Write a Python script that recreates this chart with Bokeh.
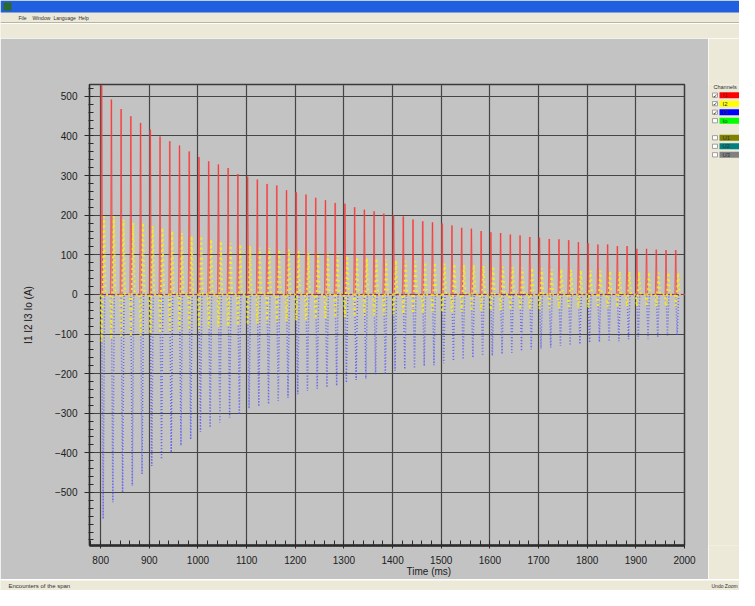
import numpy as np
from bokeh.plotting import figure
from bokeh.models import Range1d, FixedTicker, Title
from bokeh.layouts import column, row
from bokeh.embed import file_html
from bokeh.resources import INLINE
from bokeh.core.properties import value

FONT = "Liberation Sans"
GRAY = "#c3c3c3"
BEIGE = "#ece9d8"

# ---------------- data ----------------
cycle_start_ms = [800, 820, 840, 860, 880, 900, 920, 940, 960, 980,
                  1000, 1020, 1040, 1060, 1080, 1100, 1120, 1140, 1160, 1180,
                  1200, 1220, 1240, 1260, 1280, 1300, 1320, 1340, 1360, 1380,
                  1400, 1420, 1440, 1460, 1480, 1500, 1520, 1540, 1560, 1580,
                  1600, 1620, 1640, 1660, 1680, 1700, 1720, 1740, 1760, 1780,
                  1800, 1820, 1840, 1860, 1880, 1900, 1920, 1940, 1960, 1980]

i1_peak_A = [528, 492, 468, 450, 433, 416, 399, 387, 376, 361,
             347, 336, 328, 319, 304, 297, 290, 279, 275, 263,
             258, 252, 244, 238, 231, 229, 220, 214, 210, 204,
             199, 197, 189, 185, 182, 179, 174, 168, 166, 160,
             157, 155, 151, 149, 145, 143, 140, 139, 137, 132,
             129, 126, 126, 122, 122, 115, 115, 113, 112, 112]

i2_peak_A = [197, 197, 189, 181, 181, 172, 168, 160, 155, 147,
             147, 139, 134, 130, 126, 122, 118, 118, 113, 113,
             109, 105, 102, 100, 98, 97, 94, 92, 91, 88,
             86, 85, 84, 81, 80, 78, 77, 75, 74, 72,
             71, 70, 69, 68, 67, 66, 64, 64, 62, 61,
             60, 60, 59, 58, 57, 57, 56, 55, 55, 54]

i2_trough_A = [-118, -113, -110, -106, -104, -100, -98, -95, -92, -90,
               -88, -85, -83, -80, -78, -76, -74, -72, -70, -68,
               -66, -64, -62, -60, -59, -57, -56, -54, -53, -52,
               -50, -49, -48, -47, -46, -45, -44, -43, -42, -41,
               -40, -40, -39, -38, -37, -37, -36, -35, -35, -34,
               -33, -33, -32, -32, -31, -31, -30, -30, -30, -29]

i3_trough_A = [-567, -525, -500, -483, -454, -433, -416, -399, -382, -366,
               -347, -336, -324, -311, -303, -288, -283, -277, -269, -261,
               -252, -244, -238, -235, -231, -223, -216, -213, -202, -202,
               -193, -189, -187, -181, -179, -174, -168, -164, -160, -155,
               -155, -151, -147, -143, -139, -137, -134, -130, -129, -126,
               -122, -120, -119, -118, -113, -113, -112, -109, -105, -103]

x_ticks = [800, 900, 1000, 1100, 1200, 1300, 1400, 1500, 1600, 1700, 1800, 1900, 2000]
y_ticks = [-500, -400, -300, -200, -100, 0, 100, 200, 300, 400, 500]

channel_labels = ["I1", "I2", "I3", "Io", "U1", "U2", "U3"]
channel_colors = ["#ff0000", "#ffff00", "#0000ff", "#00ff00", "#808000", "#008080", "#808080"]
channel_checked = [True, True, True, False, False, False, False]

x_label = "Time (ms)"
y_label = "I1 I2 I3 Io (A)"
status_text = "Encounters of the span"
menu_items = ["File", "Window", "Language", "Help"]
end_ms = 2000


def pulse_polyline(starts, offsets, levels):
    """Polyline through per-cycle levels (None = zero baseline)."""
    xs, ys = [], []
    for i, t in enumerate(starts):
        for off, lv in zip(offsets, levels):
            xs.append(t + off)
            ys.append(0.0 if lv is None else lv[i])
    xs.append(end_ms)
    ys.append(0.0)
    return xs, ys


# ---------------- main chart ----------------
p = figure(width=708, height=541,
           x_range=Range1d(777, 2000), y_range=Range1d(-634, 530),
           output_backend="svg", toolbar_location=None,
           min_border_left=89, min_border_right=24,
           min_border_top=46, min_border_bottom=34)
p.background_fill_color = GRAY
p.border_fill_color = GRAY
p.outline_line_color = "#3a3a3a"
p.outline_line_width = 1.5

p.xaxis.ticker = FixedTicker(ticks=x_ticks, minor_ticks=list(range(780, 2001, 20)))
p.yaxis.ticker = FixedTicker(ticks=y_ticks, minor_ticks=list(range(-620, 521, 20)))

for ax in (p.xaxis[0], p.yaxis[0]):
    ax.major_label_text_font = FONT
    ax.major_label_text_font_size = "10px"
    ax.major_label_text_color = "#202020"
    ax.axis_line_color = "#2a2a2a"
    ax.major_tick_line_color = "#2a2a2a"
    ax.minor_tick_line_color = "#2a2a2a"
    ax.major_label_standoff = 7

p.xaxis.axis_line_width = 2.5
p.xaxis.major_tick_out = 3
p.xaxis.major_tick_in = 0
p.xaxis.minor_tick_in = 5
p.xaxis.minor_tick_out = 0
p.yaxis.axis_line_width = 1.2
p.yaxis.major_tick_out = 5
p.yaxis.major_tick_in = 0
p.yaxis.minor_tick_in = 4
p.yaxis.minor_tick_out = 1

p.grid.grid_line_color = "#454545"
p.grid.grid_line_width = 1.2

# I3 (blue, dotted)
bx, by = pulse_polyline(cycle_start_ms, (2, 5, 8), (None, i3_trough_A, None))
p.line(bx, by, line_color="#4b4bff", line_width=1.5, line_dash="1 2", line_alpha=0.75)

# I1 (red): pink body of each pulse + red outline
p.vbar(x=[t + 2 for t in cycle_start_ms], top=i1_peak_A, bottom=0, width=4,
       fill_color="#f07070", fill_alpha=0.6, line_color=None)
rx, ry = pulse_polyline(cycle_start_ms, (0, 2, 4), (None, i1_peak_A, None))
p.line(rx, ry, line_color="#ff2020", line_width=1, line_alpha=0.5)

# I2 (yellow, dotted)
yx, yy = pulse_polyline(cycle_start_ms, (0, 2, 4, 7, 10),
                        (None, i2_trough_A, None, i2_peak_A, None))
p.line(yx, yy, line_color="#ffee10", line_width=2, line_dash="2 3", line_alpha=0.85)

p.add_layout(Title(text=x_label, align="left", offset=317, standoff=-5,
                   text_font=FONT, text_font_size="10px", text_font_style="normal",
                   text_color="#202020"), "below")
p.add_layout(Title(text=y_label, align="center", offset=14, standoff=35,
                   text_font=FONT, text_font_size="10px", text_font_style="normal",
                   text_color="#202020"), "left")


def blank(width, height, xr, yr, fill):
    f = figure(width=width, height=height, x_range=Range1d(*xr), y_range=Range1d(*yr),
               output_backend="svg", toolbar_location=None, min_border=0)
    f.axis.visible = False
    f.grid.visible = False
    f.outline_line_color = None
    f.background_fill_color = fill
    f.border_fill_color = fill
    return f


# ---------------- side panel (channels) ----------------
s = blank(31, 541, (708, 739), (579, 38), BEIGE)
s.text(x=[713], y=[41], text=["Channels"], text_font=value(FONT), text_font_size="5.5px",
       text_baseline="middle", text_color="#303030")
row_tops = [47, 57, 67, 77, 97, 107, 117]
s.quad(left=719, right=739, top=row_tops, bottom=[t + 7 for t in row_tops],
       fill_color=channel_colors, line_color=None)
s.quad(left=712, right=717, top=[t + 1 for t in row_tops], bottom=[t + 6 for t in row_tops],
       fill_color="white", line_color="#8a8a8a", line_width=0.8)
checked_tops = [t for t, c in zip(row_tops, channel_checked) if c]
s.text(x=[712.3] * len(checked_tops), y=[t + 3.5 for t in checked_tops],
       text=["✓"] * len(checked_tops), text_font=value("DejaVu Sans"),
       text_font_size="6px", text_baseline="middle", text_color="#1a1a1a")
s.text(x=[722] * len(row_tops), y=[t + 3.5 for t in row_tops], text=channel_labels,
       text_font=value(FONT), text_font_size="6px", text_baseline="middle",
       text_color="#303030")

# ---------------- top (title + menu) ----------------
t = blank(739, 38, (0, 739), (38, 0), BEIGE)
t.quad(left=0, right=739, top=0, bottom=12, fill_color="#1f5fe0", line_color=None)
t.quad(left=3, right=11, top=2, bottom=10, fill_color="#2a6a2a", line_color=None)
t.text(x=[18, 32, 53, 78], y=[17] * 4, text=menu_items, text_font=value(FONT),
       text_font_size="5px", text_baseline="middle", text_color="#303030")
t.segment(x0=0, x1=739, y0=23, y1=23, line_color="#ffffff", line_width=1)
t.segment(x0=0, x1=739, y0=22, y1=22, line_color="#b8b4a0", line_width=1)

# ---------------- bottom (status bar) ----------------
b = blank(739, 11, (0, 739), (590, 579), BEIGE)
b.text(x=[8], y=[584.5], text=[status_text], text_font=value(FONT), text_font_size="6px",
       text_baseline="middle", text_color="#303030")
b.text(x=[711], y=[584.5], text=["Undo Zoom"], text_font=value(FONT), text_font_size="5px",
       text_baseline="middle", text_color="#303030")

layout = column(t, row(p, s), b)
open("out.html", "w").write(file_html(layout, INLINE))
